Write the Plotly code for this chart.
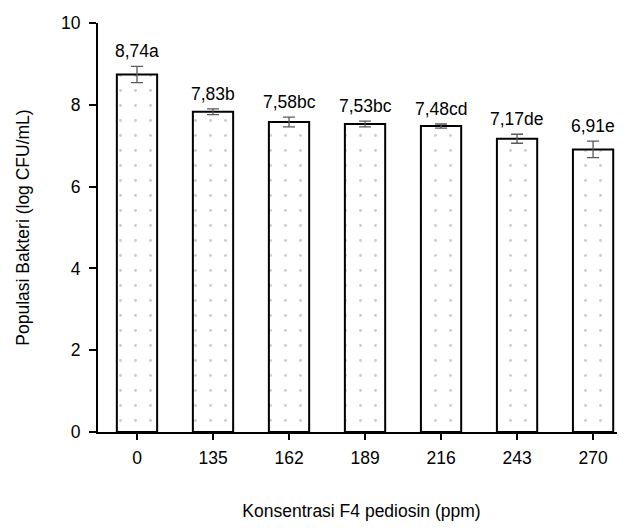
import plotly.graph_objects as go

categories = ["0", "135", "162", "189", "216", "243", "270"]
values = [8.74, 7.83, 7.58, 7.53, 7.48, 7.17, 6.91]
errors = [0.20, 0.07, 0.12, 0.07, 0.05, 0.11, 0.20]
letters = ["a", "b", "bc", "bc", "cd", "de", "e"]
y_ticks = [0, 2, 4, 6, 8, 10]

FONT = "Liberation Sans, Arial, sans-serif"
FS = 17.5

fig = go.Figure()
fig.add_trace(go.Bar(
    x=categories,
    y=values,
    width=0.53,
    marker=dict(
        color="white",
        line=dict(color="black", width=2),
        pattern=dict(shape=".", fgcolor="#999999", bgcolor="white", size=15, solidity=0.03),
    ),
    error_y=dict(type="data", array=errors, visible=True, color="#595959", thickness=1.3, width=6),
    hoverinfo="skip",
))

for i, (v, e, l) in enumerate(zip(values, errors, letters)):
    label = f"{v:.2f}".replace(".", ",") + l
    fig.add_annotation(x=i, y=v + e, xref="x", yref="y", text=label, showarrow=False,
                       yanchor="bottom", yshift=3,
                       font=dict(family=FONT, size=FS, color="black"))

fig.update_layout(
    width=617, height=522,
    margin=dict(l=90, r=0, t=15, b=98),
    paper_bgcolor="white", plot_bgcolor="white",
    showlegend=False,
    font=dict(family=FONT, size=FS, color="black"),
)
fig.update_xaxes(
    type="category", range=[-0.513, 6.42],
    showline=True, linecolor="black", linewidth=2,
    ticks="outside", ticklen=6, tickcolor="black", tickwidth=1.5,
    ticklabelstandoff=3,
    showgrid=False, zeroline=False,
    title=dict(text="Konsentrasi F4 pediosin (ppm)", standoff=38, font=dict(size=FS)),
    tickfont=dict(size=FS),
)
fig.update_yaxes(
    range=[0, 10], tickvals=y_ticks,
    showline=True, linecolor="black", linewidth=2,
    ticks="outside", ticklen=7, tickcolor="black", tickwidth=1.5,
    ticklabelstandoff=5,
    showgrid=False, zeroline=False,
    title=dict(text="Populasi Bakteri (log CFU/mL)", standoff=27, font=dict(size=FS)),
    tickfont=dict(size=FS),
)

fig.write_html("out.html")
